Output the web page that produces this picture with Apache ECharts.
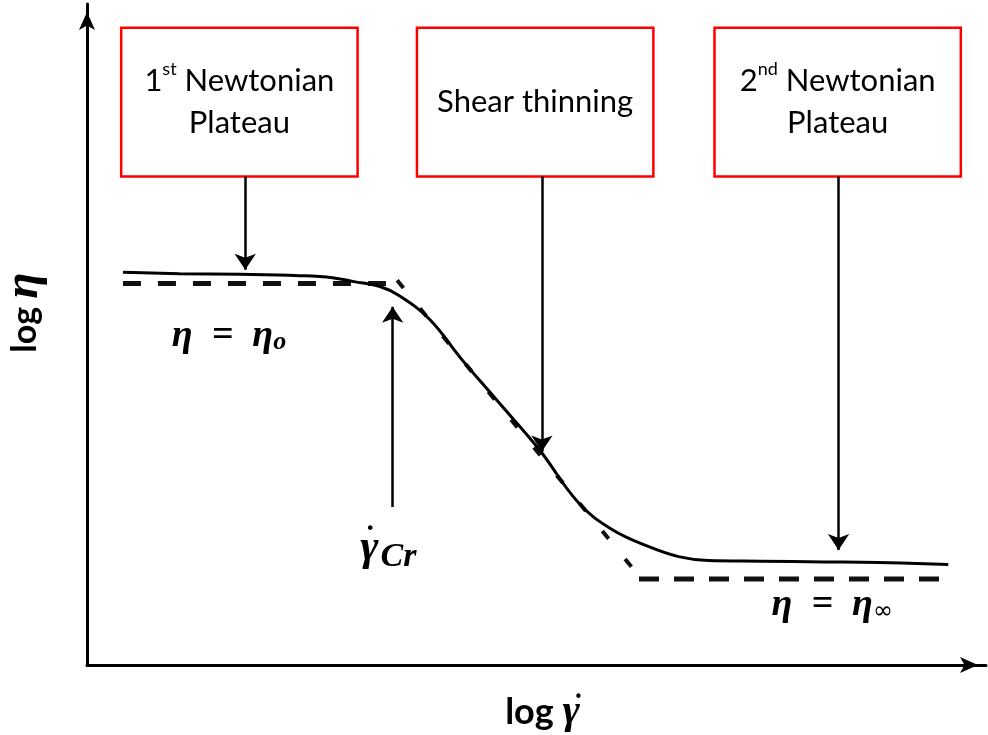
<!DOCTYPE html>
<html>
<head>
<meta charset="utf-8">
<script src="https://cdn.jsdelivr.net/npm/echarts@6/dist/echarts.min.js"></script>
<style>
html,body{margin:0;padding:0;background:#fff;}
#chart{width:988px;height:735px;}
</style>
</head>
<body>
<div id="chart"></div>
<script>
// ---- data (arbitrary log units, x: log shear rate, y: log viscosity) ----
const curveX = [4.0, 10.3, 17.0, 23.6, 27.3, 29.7, 32.5, 34.7, 38.1, 41.7, 45.5, 50.3, 54.7, 58.4, 62.5, 65.8, 69.1, 75.0, 82.0, 88.0, 95.8];
const curveY = [59.4, 59.2, 59.1, 58.9, 58.6, 58.0, 57.3, 55.9, 52.3, 46.2, 40.2, 32.6, 24.5, 20.5, 17.9, 16.4, 15.8, 15.7, 15.6, 15.5, 15.2];

const upperPlateauX = [4.0, 33.9];
const upperPlateauY = [57.7, 57.7];
const lowerPlateauX = [61.4, 94.9];
const lowerPlateauY = [13.0, 13.0];
const tangentX = [34.5, 60.6];
const tangentY = [58.2, 14.8];

const boxLabels = ['{a|1}{s|st}{a| Newtonian}\n{a|Plateau}', '{a|Shear thinning}', '{a|2}{s|nd}{a| Newtonian}\n{a|Plateau}'];
const boxX0 = [3.8, 36.7, 69.8];
const boxX1 = [30.1, 63.0, 97.2];
const boxY0 = [73.9, 73.9, 73.9];
const boxY1 = [96.4, 96.4, 96.4];

const arrowX = [17.6, 50.6, 83.6, 34.0];
const arrowFromY = [73.9, 73.9, 73.9, 23.9];
const arrowToY = [59.8, 32.3, 17.4, 54.2];

const mathLabels = ['{m|η\u2002=\u2002η}{ms|o}', '{mg|γ}{ms2|Cr}', '{dot|•}', '{m|η\u2002=\u2002η}{inf|∞}'];
const mathAlign = ['center', 'left', 'center', 'center'];
const mathX = [15.8, 30.4, 31.5, 82.9];
const mathY = [49.7, 17.35, 20.4, 9.1];

// ---- chart ----
const chart = echarts.init(document.getElementById('chart'));
const pairs = (xs, ys) => xs.map((x, i) => [x, ys[i]]);

const serifBI = {fontFamily: 'Liberation Serif', fontStyle: 'italic', fontWeight: 'bold', color: '#000'};
const mathRich = {
  m: Object.assign({fontSize: 38}, serifBI),
  mg: Object.assign({fontSize: 44, lineHeight: 30, verticalAlign: 'top'}, serifBI),
  ms: Object.assign({fontSize: 26, verticalAlign: 'bottom', padding: [12, 0, 0, 0]}, serifBI),
  ms2: Object.assign({fontSize: 34, verticalAlign: 'bottom', lineHeight: 48, padding: [0, 0, 0, 2]}, serifBI),
  inf: {fontFamily: 'DejaVu Sans', fontSize: 24, color: '#000', verticalAlign: 'bottom', padding: [12, 0, 0, 0]},
  dot: {fontFamily: 'DejaVu Sans', fontSize: 16, color: '#000'}
};

const option = {
  animation: false,
  backgroundColor: '#fff',
  grid: {left: 87, right: 2, top: 4, bottom: 70, containLabel: false, outerBoundsMode: 'none'},
  xAxis: {
    type: 'value', min: 0, max: 100,
    axisLine: {show: true, onZero: false, symbol: ['none', 'arrow'], symbolSize: [12, 18], symbolOffset: [0, -8], lineStyle: {color: '#000', width: 3}},
    axisTick: {show: false}, axisLabel: {show: false}, splitLine: {show: false},
    name: '{e|}{d|•}\n{l|log }{g|γ}', nameLocation: 'middle', nameGap: 31,
    nameTextStyle: {align: 'center', padding: [0, 0, 0, 12], rich: {
      e: {width: 72, lineHeight: 4},
      d: {fontFamily: 'DejaVu Sans', fontSize: 15, color: '#000', lineHeight: 4},
      l: {fontFamily: 'Lato', fontWeight: 'bold', fontSize: 36, color: '#000', lineHeight: 24},
      g: {fontFamily: 'Liberation Serif', fontStyle: 'italic', fontWeight: 'bold', fontSize: 42, color: '#000', lineHeight: 24}
    }}
  },
  yAxis: {
    type: 'value', min: 0, max: 100,
    axisLine: {show: true, onZero: false, symbol: ['none', 'arrow'], symbolSize: [12, 18], symbolOffset: [0, -8], lineStyle: {color: '#000', width: 3}},
    axisTick: {show: false}, axisLabel: {show: false}, splitLine: {show: false},
    name: '{l|log }{g|η}', nameLocation: 'middle', nameGap: 38, nameRotate: 90,
    nameTextStyle: {padding: [0, 0, 0, 44], rich: {
      l: {fontFamily: 'Lato', fontWeight: 'bold', fontSize: 34, color: '#000'},
      g: {fontFamily: 'Liberation Serif', fontStyle: 'italic', fontWeight: 'bold', fontSize: 48, color: '#000'}
    }}
  },
  series: [
    {
      name: 'boxes', type: 'line', data: [], silent: true,
      markArea: {
        silent: true,
        itemStyle: {color: '#fff', borderColor: '#ff0000', borderWidth: 2.5},
        label: {show: true, position: 'inside', color: '#000',
          rich: {
            a: {fontFamily: 'Lato', fontSize: 31, color: '#000', lineHeight: 42},
            s: {fontFamily: 'Lato', fontSize: 18, color: '#000', verticalAlign: 'top', lineHeight: 34}
          }},
        data: boxLabels.map((t, i) => [
          {coord: [boxX0[i], boxY1[i]], label: {formatter: t}},
          {coord: [boxX1[i], boxY0[i]]}
        ])
      }
    },
    {
      name: 'tangent', type: 'line', data: pairs(tangentX, tangentY), symbol: 'none',
      lineStyle: {color: '#111', width: 4, type: [10, 26]}
    },
    {
      name: 'upper plateau', type: 'line', data: pairs(upperPlateauX, upperPlateauY), symbol: 'none',
      lineStyle: {color: '#111', width: 5, type: [18, 17]}
    },
    {
      name: 'lower plateau', type: 'line', data: pairs(lowerPlateauX, lowerPlateauY), symbol: 'none',
      lineStyle: {color: '#111', width: 5, type: [20, 15]}
    },
    {
      name: 'viscosity', type: 'line', data: pairs(curveX, curveY), symbol: 'none', smooth: 0.4,
      lineStyle: {color: '#000', width: 3}
    },
    {
      name: 'arrows', type: 'lines', coordinateSystem: 'cartesian2d', symbol: ['none', 'arrow'], symbolSize: [12, 16],
      lineStyle: {color: '#000', width: 2.5, opacity: 1}, silent: true,
      data: arrowX.map((x, i) => ({coords: [[x, arrowFromY[i]], [x, arrowToY[i]]]}))
    },
    {
      name: 'math', type: 'scatter', symbolSize: 0, silent: true,
      itemStyle: {opacity: 1},
      data: mathLabels.map((t, i) => ({value: [mathX[i], mathY[i]], label: {formatter: t, align: mathAlign[i]}})),
      label: {show: true, position: 'inside', color: '#000', opacity: 1, textBorderWidth: 0, rich: mathRich}
    }
  ]
};
chart.setOption(option);
</script>
</body>
</html>
